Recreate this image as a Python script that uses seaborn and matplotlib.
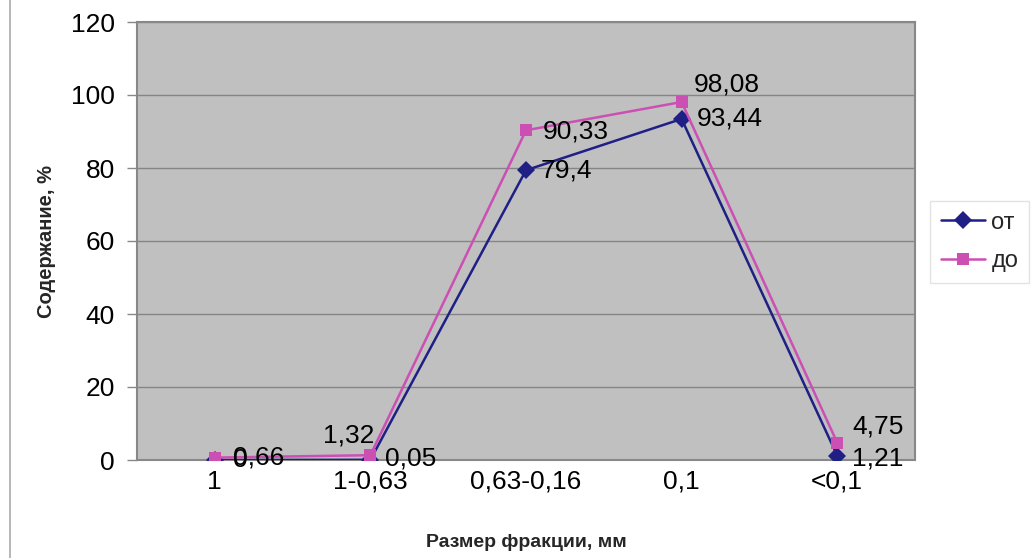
import matplotlib
matplotlib.use("Agg")
import matplotlib.pyplot as plt
import matplotlib.lines as mlines
import seaborn as sns
import pandas as pd
import numpy as np

# Fraction sizes, mm
categories = ["1", "1-0,63", "0,63-0,16", "0,1", "<0,1"]
# Content, %
values_ot = [0, 0.05, 79.4, 93.44, 1.21]
values_do = [0.66, 1.32, 90.33, 98.08, 4.75]
series_names = ["от", "до"]

# Label offsets in pixels (dx, dy) relative to each point
offsets_ot = [(18, 0), (15, 1), (15, 0), (15, 0), (15, -3)]
offsets_do = [(18, 0), (-22, 20), (17, -1), (12, 18), (15, 16)]

sns.set_theme(style="white")
plt.rcParams["font.family"] = ["Liberation Sans", "DejaVu Sans"]

df = pd.DataFrame({
    "cat": categories * 2,
    "val": values_ot + values_do,
    "series": [series_names[0]] * len(categories) + [series_names[1]] * len(categories),
})

colors = {"от": "#1f1f85", "до": "#cc4fb4"}

fig = plt.figure(figsize=(10.34, 5.58), dpi=100)
ax = fig.add_axes([137 / 1034, 1 - 460 / 558, (915 - 137) / 1034, (460 - 22) / 558])
ax.set_facecolor("#c0c0c0")

sns.lineplot(
    data=df, x="cat", y="val", hue="series", style="series",
    markers={"от": "D", "до": "s"}, dashes=False, palette=colors,
    markersize=9, linewidth=1.8, markeredgewidth=0, sort=False,
    ax=ax, legend=False, zorder=3,
)

ax.set_xlim(-0.5, len(categories) - 0.5)
ax.set_ylim(0, 120)
ax.set_yticks(np.arange(0, 121, 20))
ax.yaxis.grid(True, color="#858585", linewidth=1)
ax.set_axisbelow(True)

ax.set_xticks(range(len(categories)))
ax.set_xticklabels(categories)
ax.set_xticks(np.arange(-0.5, len(categories), 1), minor=True)
ax.tick_params(axis="x", which="major", length=0, pad=7, labelsize=19, labelcolor="black")
ax.tick_params(axis="x", which="minor", length=6, width=1, color="#999999", direction="out")
ax.tick_params(axis="y", which="major", length=7, width=1, color="#888888", pad=9,
               labelsize=19, labelcolor="black", left=True)

for side in ["left", "bottom", "top", "right"]:
    ax.spines[side].set_visible(True)
    ax.spines[side].set_color("#888888")
    ax.spines[side].set_linewidth(1.5)

ax.set_xlabel("Размер фракции, мм", fontsize=14, fontweight="bold")
ax.set_ylabel("Содержание, %", fontsize=14.5, fontweight="bold")
ax.xaxis.set_label_coords(0.5, -0.168)
ax.yaxis.set_label_coords(-0.104, 0.5)

def fmt(v):
    s = f"{v:g}"
    return s.replace(".", ",")

for vals, offs in ((values_ot, offsets_ot), (values_do, offsets_do)):
    for i, (v, (dx, dy)) in enumerate(zip(vals, offs)):
        ha = "center" if dx < 0 else "left"
        ax.annotate(fmt(v), (i, v), xytext=(dx, dy), textcoords="offset pixels",
                    ha=ha, va="center", fontsize=19, color="black", zorder=5,
                    annotation_clip=False)

handles = [
    mlines.Line2D([], [], color=colors["от"], marker="D", markersize=9,
                  markeredgewidth=0, linewidth=1.8, label="от"),
    mlines.Line2D([], [], color=colors["до"], marker="s", markersize=9,
                  markeredgewidth=0, linewidth=1.8, label="до"),
]
leg = fig.legend(handles=handles, loc="center left",
                 bbox_to_anchor=(930 / 1034, 1 - 242 / 558),
                 frameon=True, fancybox=False, fontsize=17, handlelength=1.9,
                 handletextpad=0.25, labelspacing=0.7, borderpad=0.45,
                 borderaxespad=0)
leg.get_frame().set_edgecolor("#dddddd")
leg.get_frame().set_linewidth(1)

# thin frame line on the left edge of the figure
fig.add_artist(mlines.Line2D([10 / 1034, 10 / 1034], [0, 1], color="#aaaaaa",
                             linewidth=1.2, transform=fig.transFigure))

fig.savefig("out.png", dpi=100, facecolor="white")
